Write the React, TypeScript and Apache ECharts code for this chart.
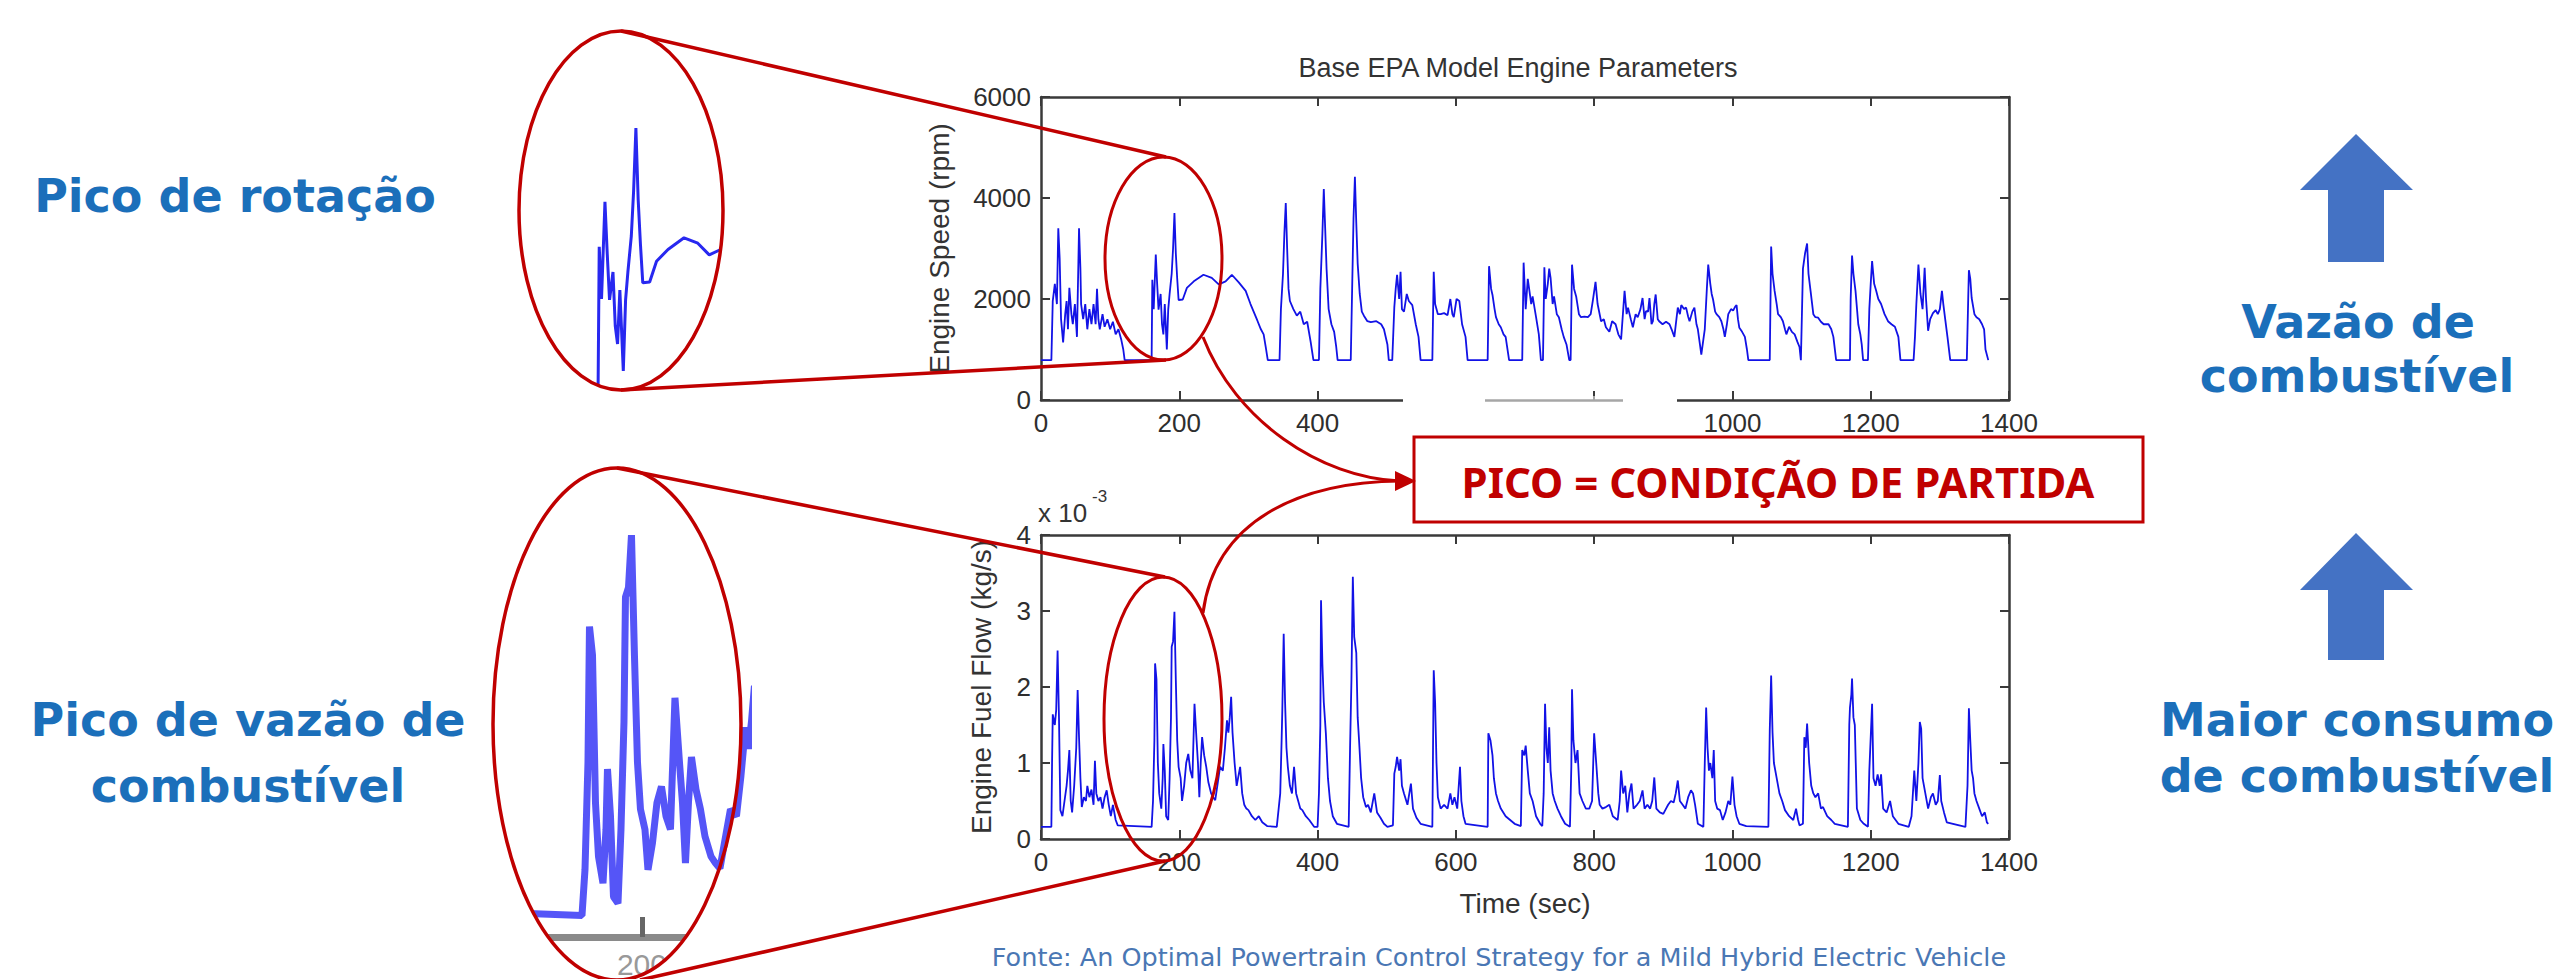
import React, { useEffect, useRef } from "react";
import * as echarts from "echarts";

// ---------- DATA ----------
const speedPoints: [number, number][] = [
  [0, 790], [15, 790], [17, 1960], [20, 2300], [23, 1900], [25, 3400], [27, 2800], [29, 1600], [32, 1140], [35, 1700],
  [37, 1960], [39, 1400], [41, 2220], [44, 1700], [46, 1500], [49, 1900], [52, 1250], [55, 3400], [57, 2600], [58, 1900],
  [61, 1600], [64, 1900], [67, 1400], [70, 1800], [73, 1500], [76, 1900], [79, 1500], [81, 2200], [83, 1600], [85, 1400],
  [89, 1700], [92, 1450], [96, 1600], [100, 1400], [104, 1550], [108, 1300], [112, 1400], [116, 1200], [119, 1000], [121, 790],
  [160, 790], [161, 2380], [163, 1800], [166, 2880], [168, 2300], [170, 1790], [173, 2100], [175, 1500], [177, 1300], [179, 1900],
  [182, 1000], [184, 1790], [186, 2100], [189, 2500], [191, 3000], [193, 3700], [195, 2900], [197, 2400], [199, 1980], [205, 1990],
  [211, 2220], [221, 2350], [235, 2480], [247, 2420], [257, 2290], [267, 2350], [276, 2480], [286, 2330], [296, 2160], [303, 1900],
  [313, 1570], [318, 1400], [322, 1300], [325, 1050], [328, 790],
  [345, 790], [347, 1800], [350, 2500], [352, 3300], [354, 3900], [356, 3000], [358, 2200], [360, 1960], [365, 1800], [370, 1670],
  [375, 1750], [380, 1500], [385, 1550], [390, 1150], [394, 790],
  [402, 790], [404, 2200], [407, 3300], [409, 4180], [411, 3400], [413, 2600], [416, 1800], [420, 1500], [424, 1350], [427, 1050], [429, 790],
  [448, 790], [450, 2200], [452, 3600], [454, 4420], [456, 3500], [458, 2700], [461, 2100], [464, 1750], [467, 1670], [472, 1560],
  [477, 1540], [485, 1560], [492, 1500], [496, 1400], [501, 1100], [503, 790],
  [508, 790], [511, 1840], [513, 2200], [515, 2480], [518, 2000], [520, 2540], [522, 1800], [525, 1750], [529, 2100], [532, 1960],
  [537, 1880], [542, 1500], [546, 1250], [549, 790],
  [566, 790], [568, 2540], [570, 1900], [574, 1700], [578, 1700], [583, 1720], [588, 1680], [592, 2000], [595, 1700], [597, 1640],
  [601, 2000], [605, 1960], [609, 1500], [614, 1250], [617, 790],
  [646, 790], [648, 2650], [651, 2200], [653, 2080], [656, 1800], [658, 1640], [662, 1500], [665, 1440], [669, 1300], [672, 1250], [677, 790],
  [696, 790], [698, 2720], [701, 1800], [704, 2400], [706, 2200], [709, 1900], [711, 2050], [716, 1640], [720, 1300], [723, 790],
  [726, 790], [728, 2630], [730, 2000], [733, 2300], [735, 2600], [737, 2420], [740, 1900], [742, 2050], [746, 1700], [749, 1640],
  [753, 1400], [756, 1250], [760, 1100], [764, 790],
  [766, 790], [768, 2680], [771, 2200], [774, 2050], [778, 1700], [781, 1640], [786, 1650], [791, 1640], [795, 1700], [798, 1960],
  [802, 2340], [805, 1900], [810, 1560], [814, 1600], [817, 1440], [822, 1350], [826, 1560], [831, 1500], [835, 1300], [839, 1200],
  [844, 2160], [847, 1700], [849, 1830], [853, 1600], [856, 1440], [860, 1700], [863, 1640], [867, 1800], [870, 2020], [873, 1600],
  [875, 1760], [878, 1750], [880, 2020], [883, 1500], [885, 1560], [887, 1900], [889, 2090], [892, 1600], [894, 1560], [899, 1500],
  [904, 1550], [909, 1500], [912, 1400], [916, 1250], [919, 1600], [921, 1830], [924, 1700], [926, 1880], [930, 1800], [933, 1830],
  [936, 1650], [938, 1560], [942, 1750], [945, 1830], [948, 1500], [950, 1400], [953, 1100], [955, 900], [958, 1200], [960, 1400],
  [963, 2200], [965, 2680], [968, 2300], [970, 2100], [972, 1990], [975, 1750], [977, 1700], [981, 1640], [984, 1560], [987, 1400],
  [989, 1250], [992, 1500], [994, 1700], [998, 1800], [1001, 1770], [1004, 1850], [1006, 1880], [1008, 1600], [1010, 1430], [1014, 1350],
  [1018, 1250], [1021, 1000], [1023, 790],
  [1054, 790], [1056, 3040], [1058, 2500], [1061, 2160], [1064, 1900], [1066, 1700], [1070, 1640], [1073, 1560], [1076, 1400], [1078, 1300],
  [1082, 1450], [1086, 1350], [1090, 1300], [1094, 1150], [1097, 1050], [1099, 790],
  [1100, 790], [1102, 2600], [1105, 2900], [1108, 3100], [1110, 2500], [1113, 2160], [1117, 1700], [1120, 1640], [1124, 1630], [1128, 1550],
  [1132, 1500], [1139, 1500], [1143, 1400], [1146, 1250], [1150, 790],
  [1170, 790], [1171, 2000], [1173, 2860], [1175, 2500], [1178, 2160], [1182, 1500], [1185, 1300], [1187, 1100], [1189, 790],
  [1196, 790], [1198, 1800], [1200, 2300], [1202, 2750], [1205, 2300], [1208, 2160], [1211, 2000], [1215, 1900], [1220, 1700], [1225, 1560],
  [1230, 1500], [1235, 1450], [1240, 1250], [1243, 790],
  [1262, 790], [1264, 1250], [1266, 1900], [1269, 2680], [1272, 2100], [1275, 1800], [1278, 2620], [1280, 2000], [1283, 1370], [1286, 1600],
  [1290, 1720], [1294, 1780], [1297, 1700], [1300, 1800], [1303, 2160], [1305, 1900], [1308, 1570], [1311, 1250], [1315, 790],
  [1339, 790], [1341, 2000], [1342, 2570], [1344, 2400], [1346, 2020], [1350, 1700], [1353, 1640], [1357, 1600], [1361, 1500], [1364, 1400],
  [1366, 1000], [1370, 790],
];

// fuel flow, x 10^-3 kg/s
const fuelPoints: [number, number][] = [
  [0, 0.16], [15, 0.16], [16, 1.0], [17, 1.64], [20, 1.5], [22, 1.7], [24, 2.48], [26, 1.6], [28, 0.38], [31, 0.3],
  [34, 0.5], [37, 0.7], [39, 0.9], [41, 1.17], [43, 0.5], [45, 0.35], [48, 0.7], [51, 1.2], [53, 1.96], [55, 1.34],
  [57, 0.8], [59, 0.42], [62, 0.55], [65, 0.5], [67, 0.7], [70, 0.55], [73, 0.65], [76, 0.45], [78, 1.03], [80, 0.6],
  [83, 0.5], [86, 0.55], [89, 0.4], [92, 0.55], [95, 0.64], [98, 0.45], [101, 0.3], [104, 0.45], [108, 0.25], [111, 0.18],
  [160, 0.16], [162, 0.5], [164, 1.3], [165, 2.31], [167, 2.1], [169, 1.0], [171, 0.6], [174, 0.4], [176, 0.8], [177, 1.25],
  [179, 0.9], [181, 0.3], [184, 0.25], [186, 0.8], [188, 1.6], [189, 2.53], [191, 2.6], [193, 2.99], [195, 2.09], [197, 1.3],
  [199, 0.95], [202, 0.8], [204, 0.5], [207, 0.7], [210, 1.0], [213, 1.12], [216, 0.9], [219, 0.8], [222, 1.78], [225, 1.3],
  [227, 1.0], [229, 0.55], [231, 1.0], [233, 1.34], [236, 1.1], [239, 0.95], [242, 0.75], [246, 0.6], [249, 0.55], [252, 0.51],
  [255, 0.7], [259, 0.95], [263, 0.9], [266, 1.2], [269, 1.56], [271, 1.4], [273, 1.6], [275, 1.87], [277, 1.4], [280, 1.0],
  [283, 0.7], [286, 0.85], [288, 0.95], [291, 0.6], [294, 0.45], [297, 0.4], [300, 0.38], [305, 0.3], [310, 0.25], [315, 0.3],
  [320, 0.22], [327, 0.17], [341, 0.16],
  [346, 0.6], [348, 1.3], [349, 1.69], [351, 2.7], [353, 1.8], [355, 1.2], [357, 0.95], [360, 0.7], [363, 0.6], [366, 0.95],
  [369, 0.6], [372, 0.5], [375, 0.4], [378, 0.38], [383, 0.3], [388, 0.25], [395, 0.16], [400, 0.16],
  [402, 0.6], [404, 1.5], [405, 3.14], [407, 2.3], [409, 1.8], [412, 1.39], [415, 0.8], [418, 0.5], [422, 0.3], [428, 0.2], [445, 0.16],
  [447, 1.2], [449, 2.1], [451, 3.45], [453, 2.66], [456, 2.45], [458, 1.6], [460, 1.3], [463, 0.8], [466, 0.55], [470, 0.42],
  [473, 0.45], [477, 0.35], [482, 0.6], [486, 0.35], [491, 0.28], [496, 0.2], [501, 0.16], [509, 0.18],
  [511, 0.86], [513, 0.95], [515, 1.08], [518, 0.9], [520, 1.05], [522, 0.7], [525, 0.6], [530, 0.45], [535, 0.73], [538, 0.4],
  [543, 0.28], [549, 0.2], [566, 0.16],
  [567, 1.2], [568, 2.22], [570, 1.8], [572, 1.0], [574, 0.55], [578, 0.4], [583, 0.45], [588, 0.4], [592, 0.6], [595, 0.45],
  [598, 0.55], [602, 0.4], [606, 0.95], [608, 0.5], [611, 0.3], [614, 0.2], [646, 0.16],
  [647, 1.39], [650, 1.3], [653, 1.1], [655, 0.8], [658, 0.6], [661, 0.5], [665, 0.4], [672, 0.3], [685, 0.2], [694, 0.17],
  [696, 1.17], [699, 1.1], [701, 1.23], [704, 0.9], [707, 0.6], [711, 0.5], [716, 0.3], [722, 0.2], [725, 0.17],
  [727, 0.6], [729, 1.78], [731, 1.2], [733, 1.0], [735, 1.47], [737, 0.9], [740, 0.6], [743, 0.5], [747, 0.4], [752, 0.3],
  [758, 0.2], [765, 0.16],
  [767, 0.95], [768, 1.97], [770, 1.3], [773, 1.0], [776, 1.17], [779, 0.6], [783, 0.5], [788, 0.4], [793, 0.4], [797, 0.5],
  [800, 1.39], [803, 1.0], [806, 0.6], [808, 0.45], [812, 0.4], [817, 0.42], [822, 0.45], [827, 0.3], [834, 0.25],
  [837, 0.5], [839, 0.9], [842, 0.6], [845, 0.7], [848, 0.35], [851, 0.6], [854, 0.73], [857, 0.4], [862, 0.45], [866, 0.5],
  [870, 0.64], [873, 0.4], [877, 0.45], [881, 0.4], [884, 0.5], [887, 0.81], [890, 0.4], [895, 0.35], [900, 0.33], [904, 0.4],
  [907, 0.45], [911, 0.5], [915, 0.48], [918, 0.6], [921, 0.77], [924, 0.5], [928, 0.45], [932, 0.4], [936, 0.55], [940, 0.64],
  [943, 0.6], [946, 0.45], [950, 0.2], [958, 0.16],
  [960, 1.0], [962, 1.73], [964, 1.2], [966, 0.9], [968, 1.0], [971, 0.8], [973, 1.17], [975, 0.5], [978, 0.4], [982, 0.38],
  [986, 0.25], [990, 0.35], [994, 0.5], [997, 0.45], [1000, 0.82], [1003, 0.45], [1006, 0.3], [1010, 0.2], [1020, 0.17], [1052, 0.16],
  [1054, 1.43], [1056, 2.15], [1058, 1.4], [1060, 1.0], [1064, 0.8], [1068, 0.6], [1072, 0.5], [1076, 0.38], [1082, 0.3], [1088, 0.25],
  [1092, 0.4], [1095, 0.25], [1097, 0.18], [1102, 0.2],
  [1104, 1.34], [1106, 1.2], [1108, 1.52], [1111, 1.0], [1114, 0.7], [1117, 0.6], [1120, 0.55], [1124, 0.6], [1128, 0.4], [1131, 0.42],
  [1137, 0.3], [1143, 0.25], [1148, 0.2], [1167, 0.16],
  [1169, 1.5], [1170, 1.73], [1172, 1.9], [1173, 2.11], [1175, 1.6], [1177, 1.5], [1180, 0.4], [1185, 0.25], [1190, 0.2], [1196, 0.16],
  [1198, 0.9], [1202, 1.78], [1204, 0.8], [1207, 0.7], [1210, 0.85], [1213, 0.7], [1215, 0.85], [1218, 0.4], [1223, 0.35], [1228, 0.5],
  [1232, 0.3], [1236, 0.25], [1240, 0.2], [1255, 0.16],
  [1259, 0.3], [1263, 0.9], [1266, 0.5], [1269, 1.0], [1271, 1.54], [1273, 1.45], [1275, 0.8], [1279, 0.6], [1283, 0.4], [1287, 0.55],
  [1290, 0.6], [1294, 0.45], [1297, 0.5], [1300, 0.84], [1302, 0.5], [1306, 0.35], [1310, 0.22], [1337, 0.16],
  [1340, 0.7], [1342, 1.72], [1344, 1.3], [1346, 0.9], [1348, 0.8], [1350, 0.6], [1353, 0.5], [1357, 0.4], [1361, 0.3], [1365, 0.35],
  [1368, 0.22], [1370, 0.2],
];

const hiddenTopLabels = [600, 800];
const insetLabelValues = [200];
const chartTitle = "Base EPA Model Engine Parameters";
const speedAxisName = "Engine Speed (rpm)";
const fuelAxisName = "Engine Fuel Flow (kg/s)";
const timeAxisName = "Time (sec)";
const calloutText = "PICO = CONDIÇÃO DE PARTIDA";
const sourceText = "Fonte: An Optimal Powertrain Control Strategy for a Mild Hybrid Electric Vehicle";
const leftLabels = ["Pico de rotação", "Pico de vazão de", "combustível"];
const rightLabels = ["Vazão de", "combustível", "Maior consumo", "de combustível"];

// ---------- STYLE ----------
const RED = "#C00000";
const BLUE_TXT = "#1b6fba";
const AX = "#3a3a3a";
const TICK_FONT = "'Liberation Sans', Arial, sans-serif";
const BIG_FONT = "'DejaVu Sans', sans-serif";

function maskPoly(pts: number[][]) {
  return { type: "polygon", z: 50, silent: true, shape: { points: pts }, style: { fill: "#ffffff", stroke: null } };
}

// white area outside an ellipse, inside a box (left half / right half)
function ellipseMasks(cx: number, cy: number, rx: number, ry: number, L: number, R: number, T: number, B: number) {
  const N = 72;
  const left: number[][] = [[cx + 1, T], [L, T], [L, B], [cx + 1, B]];
  const right: number[][] = [[cx - 1, T], [R, T], [R, B], [cx - 1, B]];
  for (let i = 0; i <= N; i++) {
    const p = (Math.PI * i) / N;
    left.push([cx - rx * Math.sin(p), cy + ry * Math.cos(p)]);
    right.push([cx + rx * Math.sin(p), cy + ry * Math.cos(p)]);
  }
  return [maskPoly(left), maskPoly(right)];
}

// white area on the right of an ellipse, only below a given y
function lowerRightMask(cx: number, cy: number, rx: number, ry: number, yFrom: number, R: number, B: number) {
  const N = 40;
  const phiEnd = Math.acos(Math.max(-1, Math.min(1, (yFrom - cy) / ry)));
  const pts: number[][] = [];
  for (let i = 0; i <= N; i++) {
    const p = (phiEnd * i) / N;
    pts.push([cx + rx * Math.sin(p), cy + ry * Math.cos(p)]);
  }
  pts.push([R, yFrom], [R, B], [cx, B]);
  return maskPoly(pts);
}

function frameAxes(gridIndex: number, min: number, max: number, interval: number, yMin: number, yMax: number, yInterval: number) {
  const line = { show: true, onZero: false, lineStyle: { color: AX, width: 2.5 } };
  const tick = { show: true, inside: true, length: 9, lineStyle: { color: AX, width: 2 } };
  return {
    x: [
      { gridIndex, type: "value", position: "bottom", min, max, interval, axisLine: line, axisTick: tick, splitLine: { show: false } },
      { gridIndex, type: "value", position: "top", min, max, interval, axisLine: line, axisTick: tick, axisLabel: { show: false }, splitLine: { show: false } },
    ],
    y: [
      { gridIndex, type: "value", position: "left", min: yMin, max: yMax, interval: yInterval, axisLine: line, axisTick: tick, splitLine: { show: false } },
      { gridIndex, type: "value", position: "right", min: yMin, max: yMax, interval: yInterval, axisLine: line, axisTick: tick, axisLabel: { show: false }, splitLine: { show: false } },
    ],
  };
}

function bigText(x: number, y: number, text: string) {
  return {
    type: "text", z: 62, x, y,
    style: { text, fontSize: 46, fontWeight: "bold", fontFamily: BIG_FONT, fill: BLUE_TXT, align: "center", verticalAlign: "middle" },
  };
}

export default function App() {
  const ref = useRef<HTMLDivElement>(null);
  useEffect(() => {
    document.body.style.margin = "0";
    if (!ref.current) return;
    const chart = echarts.init(ref.current, undefined, { renderer: "svg" });

    const top = frameAxes(0, 0, 1400, 200, 0, 6000, 2000);
    const bot = frameAxes(1, 0, 1400, 200, 0, 4, 1);
    const lbl = { fontSize: 26, color: "#2e2e2e", fontFamily: TICK_FONT, margin: 10 };
    const nameStyle = { fontSize: 28, color: "#333", fontFamily: TICK_FONT };

    Object.assign(top.x[0], { axisLabel: { ...lbl, formatter: (v: number) => (hiddenTopLabels.includes(v) ? "" : String(v)) } });
    Object.assign(top.y[0], { axisLabel: { ...lbl, formatter: (v: number) => String(v) }, name: speedAxisName, nameLocation: "middle", nameGap: 88, nameTextStyle: nameStyle });
    Object.assign(bot.x[0], { axisLabel: { ...lbl, formatter: (v: number) => String(v) }, name: timeAxisName, nameLocation: "middle", nameGap: 50, nameTextStyle: nameStyle });
    Object.assign(bot.y[0], { axisLabel: { ...lbl, formatter: (v: number) => String(v) }, name: fuelAxisName, nameLocation: "middle", nameGap: 46, nameTextStyle: nameStyle });

    const insetTopX = { gridIndex: 2, type: "value", min: 91, max: 269, show: false };
    const insetTopY = { gridIndex: 2, type: "value", min: 0, max: 4778, show: false };
    const insetBotX = {
      gridIndex: 3, type: "value", min: 100, max: 270.7, interval: 100, position: "bottom",
      axisLine: { show: true, onZero: false, lineStyle: { color: "#8a8a8a", width: 7 } },
      axisTick: { show: true, inside: true, length: 20, lineStyle: { color: "#666", width: 5 } },
      axisLabel: { show: true, fontSize: 30, color: "#999", fontFamily: TICK_FONT, margin: 12, formatter: (v: number) => (insetLabelValues.includes(v) ? String(v) : "") },
      splitLine: { show: false },
    };
    const insetBotY = { gridIndex: 3, type: "value", min: 0, max: 3.49, show: false };

    const graphics: any[] = [
      // masks for the magnified insets
      ...ellipseMasks(621, 210.5, 102, 179.5, 505, 737, 20, 480),
      ellipseMasks(617, 724, 124, 256, 482, 752, 455, 979)[0],
      lowerRightMask(617, 724, 124, 256, 900, 760, 985),
      // white patches over the damaged parts of the top x axis
      { type: "rect", z: 50, silent: true, shape: { x: 1403, y: 389, width: 82, height: 46 }, style: { fill: "#fff" } },
      { type: "rect", z: 50, silent: true, shape: { x: 1623, y: 389, width: 54, height: 46 }, style: { fill: "#fff" } },
      { type: "rect", z: 50, silent: true, shape: { x: 1485, y: 396, width: 138, height: 8 }, style: { fill: "rgba(255,255,255,0.55)" } },
      // ellipses
      { type: "ellipse", z: 60, shape: { cx: 621, cy: 210.5, rx: 102, ry: 179.5 }, style: { fill: "none", stroke: RED, lineWidth: 3.5 } },
      { type: "ellipse", z: 60, shape: { cx: 617, cy: 724, rx: 124, ry: 256 }, style: { fill: "none", stroke: RED, lineWidth: 3.5 } },
      { type: "ellipse", z: 60, shape: { cx: 1163.5, cy: 258.5, rx: 58.5, ry: 101.5 }, style: { fill: "none", stroke: RED, lineWidth: 3 } },
      { type: "ellipse", z: 60, shape: { cx: 1163, cy: 719, rx: 59, ry: 142 }, style: { fill: "none", stroke: RED, lineWidth: 3 } },
      // connector lines
      { type: "line", z: 60, shape: { x1: 621, y1: 31, x2: 1166, y2: 157 }, style: { stroke: RED, lineWidth: 3.5 } },
      { type: "line", z: 60, shape: { x1: 621, y1: 390, x2: 1166, y2: 360 }, style: { stroke: RED, lineWidth: 3.5 } },
      { type: "line", z: 60, shape: { x1: 617, y1: 468, x2: 1165, y2: 577 }, style: { stroke: RED, lineWidth: 3.5 } },
      { type: "line", z: 60, shape: { x1: 640, y1: 980, x2: 1165, y2: 861 }, style: { stroke: RED, lineWidth: 3.5 } },
      // curved arrows to the callout
      { type: "bezierCurve", z: 60, shape: { x1: 1203, y1: 337, cpx1: 1235, cpy1: 420, cpx2: 1320, cpy2: 478, x2: 1400, y2: 481 }, style: { fill: "none", stroke: RED, lineWidth: 3 } },
      { type: "bezierCurve", z: 60, shape: { x1: 1203, y1: 613, cpx1: 1215, cpy1: 520, cpx2: 1300, cpy2: 482, x2: 1400, y2: 481 }, style: { fill: "none", stroke: RED, lineWidth: 3 } },
      { type: "polygon", z: 61, shape: { points: [[1416, 481], [1395, 471], [1395, 491]] }, style: { fill: RED } },
      // callout box
      { type: "rect", z: 60, shape: { x: 1414, y: 437, width: 729, height: 85 }, style: { fill: "#fff", stroke: RED, lineWidth: 3 } },
      { type: "text", z: 62, x: 1778, y: 481, style: { text: calloutText, fontSize: 42, fontWeight: "bold", fontFamily: "'Noto Sans', sans-serif", fill: RED, align: "center", verticalAlign: "middle" } },
      // title
      { type: "text", z: 62, x: 1518, y: 68, style: { text: chartTitle, fontSize: 27, fontFamily: TICK_FONT, fill: "#333", align: "center", verticalAlign: "middle" } },
      // x 10^-3
      { type: "text", z: 62, x: 1038, y: 513, style: { text: "x 10", fontSize: 26, fontFamily: TICK_FONT, fill: "#333", align: "left", verticalAlign: "middle" } },
      { type: "text", z: 62, x: 1092, y: 496, style: { text: "-3", fontSize: 17, fontFamily: TICK_FONT, fill: "#333", align: "left", verticalAlign: "middle" } },
      // footnote
      { type: "text", z: 62, x: 1499, y: 957, style: { text: sourceText, fontSize: 25.5, fontFamily: BIG_FONT, fill: "#4a77b4", align: "center", verticalAlign: "middle" } },
      // left labels
      bigText(235, 196, leftLabels[0]),
      bigText(248, 720, leftLabels[1]),
      bigText(248, 786, leftLabels[2]),
      // right arrows
      { type: "polygon", z: 60, shape: { points: [[2356, 134], [2413, 190], [2384, 190], [2384, 262], [2328, 262], [2328, 190], [2300, 190]] }, style: { fill: "#4472C4" } },
      { type: "polygon", z: 60, shape: { points: [[2356, 533], [2413, 590], [2384, 590], [2384, 660], [2328, 660], [2328, 590], [2300, 590]] }, style: { fill: "#4472C4" } },
      // right labels
      bigText(2358, 322, rightLabels[0]),
      bigText(2357, 376, rightLabels[1]),
      bigText(2357, 720, rightLabels[2]),
      bigText(2357, 776, rightLabels[3]),
    ];

    const option: any = {
      animation: false,
      backgroundColor: "#ffffff",
      grid: [
        { left: 1041, top: 97, width: 968, height: 303 },
        { left: 1041, top: 535, width: 968, height: 304 },
        { left: 519, top: 31, width: 204, height: 430 },
        { left: 492, top: 468, width: 256, height: 471 },
      ],
      xAxis: [...top.x, ...bot.x, insetTopX, insetBotX],
      yAxis: [...top.y, ...bot.y, insetTopY, insetBotY],
      series: [
        { type: "line", xAxisIndex: 0, yAxisIndex: 0, data: speedPoints, showSymbol: false, clip: true, lineStyle: { color: "#1212e6", width: 1.8 } },
        { type: "line", xAxisIndex: 2, yAxisIndex: 2, data: fuelPoints, showSymbol: false, clip: true, lineStyle: { color: "#1212e6", width: 1.8 } },
        { type: "line", xAxisIndex: 4, yAxisIndex: 4, data: speedPoints, showSymbol: false, clip: true, lineStyle: { color: "#2828f0", width: 3 } },
        { type: "line", xAxisIndex: 5, yAxisIndex: 5, data: fuelPoints, showSymbol: false, clip: true, lineStyle: { color: "#2a2af5", width: 7, opacity: 0.8 } },
      ],
      graphic: { elements: graphics },
    };
    chart.setOption(option);
    return () => chart.dispose();
  }, []);
  return <div ref={ref} style={{ position: "absolute", left: 0, top: 0, width: 2560, height: 979, background: "#fff" }} />;
}
